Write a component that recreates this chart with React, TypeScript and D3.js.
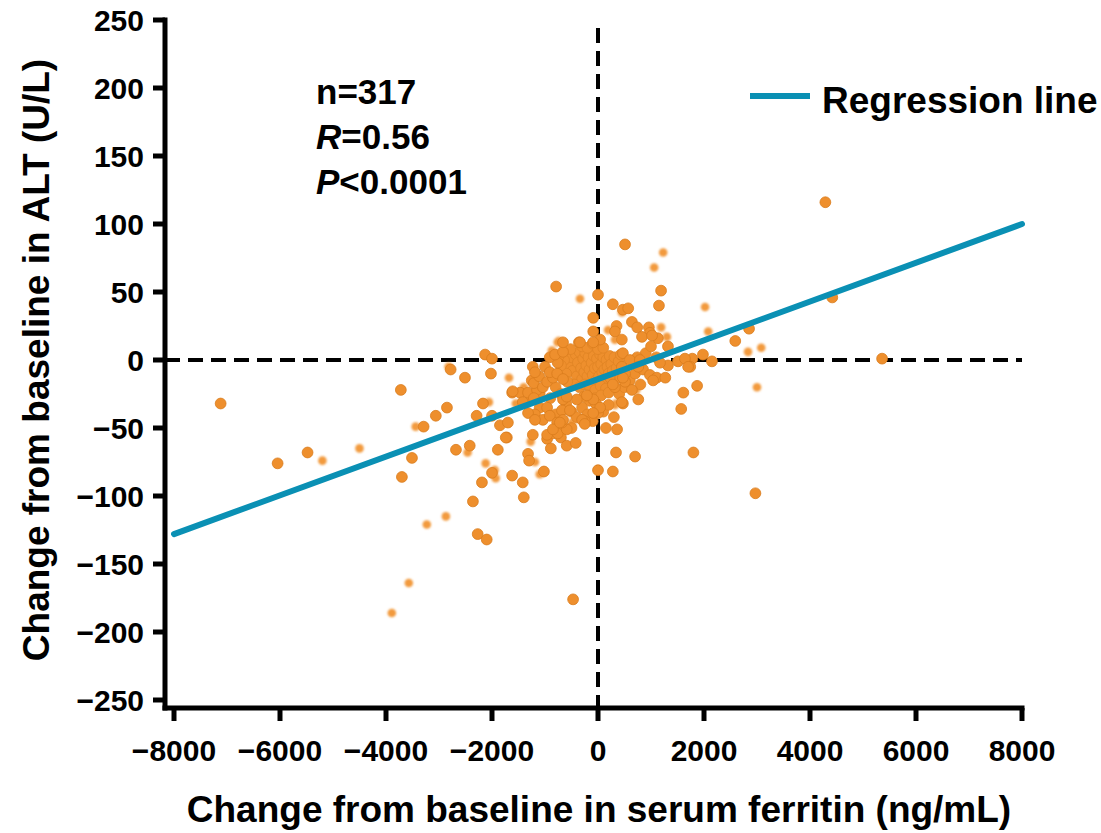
import React from "react";
import * as d3 from "d3";

const xTicks = [-8000, -6000, -4000, -2000, 0, 2000, 4000, 6000, 8000];
const yTicks = [250, 200, 150, 100, 50, 0, -50, -100, -150, -200, -250];

// sharp points: [ferritin change, ALT change]
const sharpX = [-7120,-6045,-5480,-3720,-3700,-3510,-3290,-3060,-2850,-2680,-2510,-2420,-2360,-2270,-2100,-2190,-2000,-1890,-1720,-1620,-1420,-1400,-1320,-1300,-1020,-960,-850,-890,-700,-590,-420,-470,0,280,340,360,700,1800,2970,4290,5360,4420,2850,2590,1980,2150,1870,1610,1570,1780,1740,1510,1320,1320,510,1190,1150,0,280,470,570,-90,640,740,960,980,830,1130,-790,-90,40,-360,-2130,-2000,-2780,-2020,-1620,-1470,-1320,-1230,-2170,-2290,-2000,-1850,-1700,-1740,-1610,-1150,-1210,-1110,-1190,-1040,-960,-850,-910,-770,-660,-760,-910,-810,-660,-1210,-1190,-960,-1040,-910,-770,-660,-680,-1320,-1230,-960,-760,-590,-680,-250,-40,0,-90,470,640,320,230,510,760,450,40,-90,-400,-210,-590,-530,-660,-300,320,1020,-660,-340,-90,470,740,600,850,980,1110,1270,1170,1640,1700,420,280,510,1040,790,760,450,470,-1420,-850,-250,-1190,-720];
const sharpY = [-32,-76,-68,-22,-86,-72,-49,-41,-35,-66,-13,-63,-104,-128,-132,-90,-83,-66,-57,-85,-90,-101,-69,-74,-82,-58,-54,-65,-57,-63,-61,-176,-81,-82,-68,-51,-71,-68,-98,116,1,46,23,14,4,-1,-19,-24,-36,1,-5,-1,-4,10,85,51,40,48,41,37,38,31,28,24,24,20,17,16,54,21,15,13,4,1,-7,-10,-24,-24,-24,-5,-32,-41,-41,-48,-46,-57,-23,-22,-17,-12,-9,-20,-16,-13,-9,-10,-14,-2,2,4,6,-28,-40,-35,-44,-41,-46,-29,-37,-39,-55,-55,-54,-51,-46,-45,-32,-39,-29,-32,-22,-20,-13,-10,-29,-31,-35,-39,-29,-26,-27,-37,-44,-44,21,18,13,13,13,5,2,0,-7,-11,-13,-13,-2,1,-5,-13,-18,-16,-15,0,-5,-5,-13,-31,-51,-47,-44,-46];

// dense core near the origin
const coreX = [-560,-500,-480,-420,-400,-380,-350,-320,-300,-280,-260,-240,-220,-200,-180,-160,-140,-120,-100,-80,-60,-40,-20,0,20,40,60,80,100,120,140,160,180,200,220,250,280,310,350,390,430,-450,-350,-250,-150,-50,50,150,-300,-200,-100,0,100,-520,-600,-640,-700,-740,-580,-50,60,-160,200,-270,-1300,-1100,-900,-800,-700,-600,-500,-400,-300,-200,-100,100,200,300,400,500,600,700,800,900,1000,1100,-1000,-1100,-1250,-800,-500,150,450,350];
const coreY = [-3,2,-8,4,-12,-2,6,-6,-14,1,-9,5,-4,-12,2,-7,8,-2,-11,3,-6,-15,1,-5,-12,4,-3,-9,2,-7,-14,0,-5,-10,3,-3,-8,2,-6,-1,4,-18,-20,-18,-20,-22,-19,-21,10,9,12,8,9,8,-10,0,-4,3,-16,-28,-26,-30,-24,-27,-30,-35,-28,-20,-25,-32,-38,-42,-35,-40,-45,-38,-33,-42,-25,-20,-15,-10,-18,5,10,2,-5,-25,-15,-40,-50,-50,15,25];

// softer, smaller points
const softX = [-5200,-4500,-3440,-3230,-2870,-3570,-3890,-2460,-2120,-1950,-1930,-1190,-1270,-1100,-740,-490,-340,450,190,320,-740,-870,-2820,-1680,-1400,-2060,-1550,-490,340,720,1230,1060,1190,1300,2020,2080,2830,3080,3000,320,-760];
const softY = [-74,-65,-49,-121,-115,-164,-186,-68,-76,-81,-87,-75,-60,-84,-51,-47,45,35,22,15,14,7,-5,-13,-20,-31,-32,-46,-32,-22,79,68,24,17,39,21,6,9,-20,-33,13];

const regX = [-8000, 8000];
const regY = [-128, 100];

const W = 1101, H = 833;
const FONT = "'Liberation Sans', Arial, Helvetica, sans-serif";

export default function App() {
  const x = d3.scaleLinear().domain([-8000, 8000]).range([174, 1022]);
  const y = d3.scaleLinear().domain([-250, 250]).range([700, 20]);
  const axisX = 165;
  const axisY = 708;
  const minus = (v: number) => (v < 0 ? "\u2212" + Math.abs(v) : String(v));
  const sharp = sharpX.map((v, i) => [v, sharpY[i]]);
  const core = coreX.map((v, i) => [v, coreY[i]]);
  const soft = softX.map((v, i) => [v, softY[i]]);
  const line = d3.line<number>().x((d) => x(d)).y((_, i) => y(regY[i]));
  return (
    <svg width={W} height={H} style={{ position: "absolute", left: 0, top: 0, background: "#fff" }} fontFamily={FONT}>
      <defs>
        <filter id="blur" x="-50%" y="-50%" width="200%" height="200%">
          <feGaussianBlur stdDeviation="0.9" />
        </filter>
      </defs>
      {/* reference dashed lines */}
      <line x1={x(0)} x2={x(0)} y1={28} y2={axisY} stroke="#000" strokeWidth={4} strokeDasharray="15 8" />
      <line x1={axisX} x2={x(8000)} y1={y(0)} y2={y(0)} stroke="#000" strokeWidth={4} strokeDasharray="15 8" />
      {/* points */}
      <g filter="url(#blur)">
        {soft.map((d, i) => (
          <circle key={"s" + i} cx={x(d[0])} cy={y(d[1])} r={4.3} fill="#f29a3e" />
        ))}
      </g>
      {core.map((d, i) => (
        <circle key={"c" + i} cx={x(d[0])} cy={y(d[1])} r={5.4} fill="#ee8f2d" stroke="#e08424" strokeWidth={0.8} />
      ))}
      {sharp.map((d, i) => (
        <circle key={"p" + i} cx={x(d[0])} cy={y(d[1])} r={5.4} fill="#ee8f2d" stroke="#d97c1d" strokeWidth={0.8} />
      ))}
      {/* regression line */}
      <path d={line(regX) || ""} stroke="#0a90b4" strokeWidth={6} fill="none" strokeLinecap="round" />
      {/* axes */}
      <line x1={axisX} x2={axisX} y1={y(250) - 2.5} y2={axisY + 2.5} stroke="#000" strokeWidth={5} />
      <line x1={axisX - 2.5} x2={x(8000) + 2.5} y1={axisY} y2={axisY} stroke="#000" strokeWidth={5} />
      {yTicks.map((t) => (
        <g key={"yt" + t}>
          <line x1={axisX - 12} x2={axisX} y1={y(t)} y2={y(t)} stroke="#000" strokeWidth={5} />
          <text x={144} y={y(t)} dy="0.36em" textAnchor="end" fontSize={30} fontWeight="bold">{minus(t)}</text>
        </g>
      ))}
      {xTicks.map((t) => (
        <g key={"xt" + t}>
          <line x1={x(t)} x2={x(t)} y1={axisY} y2={axisY + 13} stroke="#000" strokeWidth={5} />
          <text x={x(t)} y={761} textAnchor="middle" fontSize={30} fontWeight="bold">{minus(t)}</text>
        </g>
      ))}
      {/* axis titles */}
      <text x={599} y={822} textAnchor="middle" fontSize={37} fontWeight="bold">Change from baseline in serum ferritin (ng/mL)</text>
      <text transform="translate(49,360) rotate(-90)" textAnchor="middle" fontSize={37} fontWeight="bold">Change from baseline in ALT (U/L)</text>
      {/* annotations */}
      <text x={316} y={104} fontSize={35} fontWeight="bold">n=317</text>
      <text x={316} y={149} fontSize={35} fontWeight="bold"><tspan fontStyle="italic">R</tspan>=0.56</text>
      <text x={316} y={194} fontSize={35} fontWeight="bold"><tspan fontStyle="italic">P</tspan>&lt;0.0001</text>
      {/* legend */}
      <line x1={750} x2={810} y1={96} y2={96} stroke="#0a90b4" strokeWidth={6} />
      <text x={822} y={113} fontSize={37} fontWeight="bold">Regression line</text>
    </svg>
  );
}
